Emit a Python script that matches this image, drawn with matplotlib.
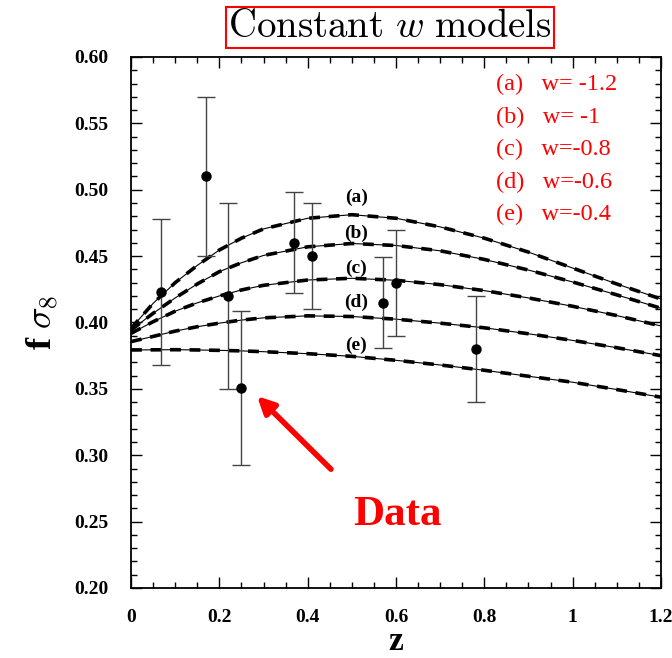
import matplotlib
matplotlib.use('Agg')
import matplotlib.pyplot as plt
import numpy as np

plt.rcParams['font.family'] = 'Liberation Serif'
plt.rcParams['mathtext.fontset'] = 'cm'

# measured growth data (z, f sigma8, error)
z_data = [0.067, 0.17, 0.22, 0.25, 0.37, 0.41, 0.57, 0.60, 0.78]
fs8_data = [0.423, 0.510, 0.420, 0.351, 0.460, 0.450, 0.415, 0.430, 0.380]
fs8_err = [0.055, 0.060, 0.070, 0.058, 0.038, 0.040, 0.034, 0.040, 0.040]

# model curves
z_model = [0.0, 0.05, 0.1, 0.15, 0.2, 0.25, 0.3, 0.4, 0.5, 0.6, 0.7, 0.8, 0.9, 1.0, 1.1, 1.2]
fs8_a = [0.3956, 0.4144, 0.4300, 0.4430, 0.4546, 0.4635, 0.4705, 0.4785, 0.4812, 0.4785,
         0.4720, 0.4635, 0.4530, 0.4410, 0.4290, 0.4177]
fs8_b = [0.3943, 0.4069, 0.4185, 0.4290, 0.4383, 0.4450, 0.4505, 0.4570, 0.4595, 0.4580,
         0.4540, 0.4475, 0.4395, 0.4305, 0.4208, 0.4107]
fs8_c = [0.3918, 0.4006, 0.4085, 0.4148, 0.4200, 0.4245, 0.4280, 0.4320, 0.4333, 0.4318,
         0.4285, 0.4240, 0.4185, 0.4122, 0.4052, 0.3974]
fs8_d = [0.3856, 0.3895, 0.3935, 0.3968, 0.3995, 0.4018, 0.4035, 0.4050, 0.4045, 0.4025,
         0.3995, 0.3960, 0.3915, 0.3865, 0.3810, 0.3750]
fs8_e = [0.3793, 0.3794, 0.3795, 0.3793, 0.3790, 0.3786, 0.3780, 0.3765, 0.3745, 0.3715,
         0.3680, 0.3640, 0.3595, 0.3550, 0.3495, 0.3437]

curve_tags = ['(a)', '(b)', '(c)', '(d)', '(e)']
tag_y = [0.494, 0.467, 0.441, 0.4155, 0.383]
legend_lines = ['(a)   w= -1.2', '(b)   w= -1', '(c)   w=-0.8', '(d)   w=-0.6', '(e)   w=-0.4']

fig = plt.figure(figsize=(6.72, 6.58), dpi=100)
ax = fig.add_axes([0.195, 0.1064, 0.7886, 0.807])

for fs8 in [fs8_a, fs8_b, fs8_c, fs8_d, fs8_e]:
    ax.plot(z_model, fs8, color='black', lw=0.8)
    ax.plot(z_model, fs8, color='black', lw=2.6, dashes=(3, 2.4))

ax.errorbar(z_data, fs8_data, yerr=fs8_err, fmt='o', color='black', ms=6.5,
            ecolor='#444444', elinewidth=1.0, capsize=6.5, capthick=1.0)

for tag, ty in zip(curve_tags, tag_y):
    ax.text(0.51, ty, tag, ha='center', va='center', fontsize=14, fontweight='bold')

for i, s in enumerate(legend_lines):
    fig.text(0.738, 0.871 - i * 0.0494, s, color='red', fontsize=17.5, ha='left', va='center')

ax.annotate('', xy=(0.281, 0.346), xytext=(0.381, 0.220),
            xycoords='data', textcoords='axes fraction',
            arrowprops=dict(arrowstyle='-|>', color='red', lw=4, mutation_scale=25))
fig.text(0.591, 0.217, 'Data', color='red', fontsize=31, fontweight='bold', ha='center', va='center')

ax.set_xlim(0, 1.2)
ax.set_ylim(0.20, 0.60)
ax.set_xticks([0, 0.2, 0.4, 0.6, 0.8, 1.0, 1.2])
ax.set_xticklabels(['0', '0.2', '0.4', '0.6', '0.8', '1', '1.2'])
ax.set_xticks(np.arange(0, 1.21, 0.05), minor=True)
ax.set_yticks(np.arange(0.20, 0.601, 0.05))
ax.set_yticklabels(['%.2f' % v for v in np.arange(0.20, 0.601, 0.05)])
ax.set_yticks(np.arange(0.20, 0.601, 0.01), minor=True)
ax.tick_params(which='both', direction='in', top=True, right=True, width=1.0)
ax.tick_params(which='major', length=8, labelsize=14)
ax.tick_params(axis='x', which='major', pad=15)
ax.tick_params(axis='y', which='major', pad=16)
ax.tick_params(which='minor', length=4)
for lab in ax.get_xticklabels() + ax.get_yticklabels():
    lab.set_fontweight('bold')
for sp in ax.spines.values():
    sp.set_linewidth(1.3)

ax.set_xlabel('z', fontsize=24, fontweight='bold', labelpad=0)
ax.set_ylabel(r'f $\sigma_8$', fontsize=26, fontweight='bold', labelpad=10)

fig.text(0.580, 0.958, r'$\mathrm{Constant}\ w\ \mathrm{models}$', fontsize=28,
         ha='center', va='center',
         bbox=dict(boxstyle='square,pad=0.05', fc='white', ec='red', lw=1.5))

fig.savefig('out.png', dpi=100)
